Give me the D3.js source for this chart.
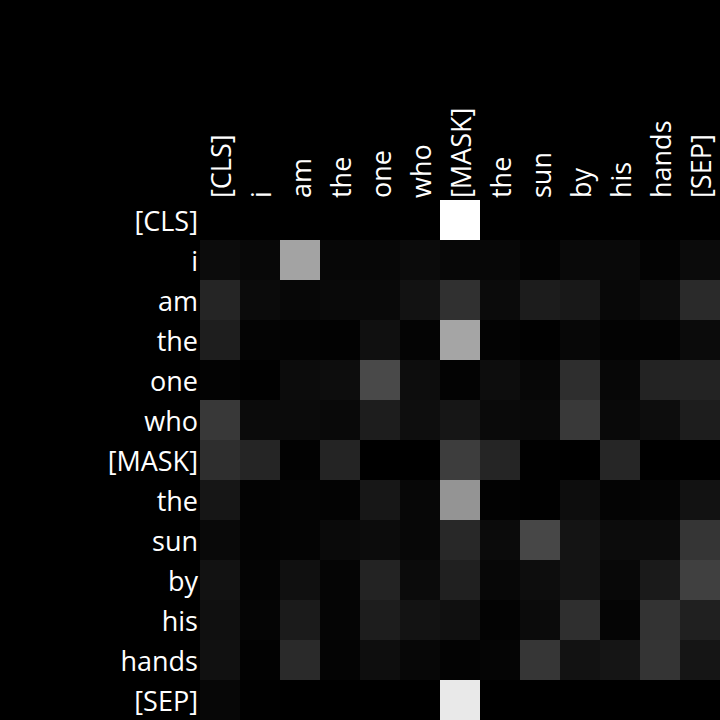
<!DOCTYPE html>
<html><head><meta charset="utf-8">
<script src="https://cdn.jsdelivr.net/npm/d3@7"></script>
<style>html,body{margin:0;padding:0;background:#000;}</style>
</head><body>
<svg id="chart" width="720" height="720"></svg>
<script>
const tokens = ["[CLS]","i","am","the","one","who","[MASK]","the","sun","by","his","hands","[SEP]"];
const row0  = [0,0,0,0,0,0,1,0,0,0,0,0,0];
const row1  = [.047,.031,.639,.027,.027,.043,.027,.027,.012,.035,.035,.012,.043];
const row2  = [.145,.043,.027,.035,.035,.071,.188,.043,.110,.094,.031,.051,.165];
const row3  = [.118,.016,.012,.008,.063,.016,.647,.012,.004,.027,.012,.012,.043];
const row4  = [.012,.004,.047,.051,.286,.051,.012,.051,.027,.180,.027,.137,.137];
const row5  = [.220,.043,.043,.035,.114,.055,.086,.039,.035,.224,.035,.051,.114];
const row6  = [.180,.145,.008,.141,0,0,.239,.145,.004,0,.149,0,0];
const row7  = [.086,.012,.016,.012,.090,.027,.580,.008,.004,.051,.016,.020,.071];
const row8  = [.035,.012,.016,.039,.047,.027,.157,.043,.278,.078,.047,.047,.208];
const row9  = [.071,.016,.063,.020,.137,.043,.125,.027,.051,.078,.031,.102,.251];
const row10 = [.063,.020,.106,.020,.114,.075,.063,.012,.043,.184,.020,.200,.125];
const row11 = [.067,.008,.165,.016,.055,.027,.012,.020,.212,.071,.082,.204,.082];
const row12 = [.027,.004,0,0,0,0,.914,0,0,0,0,0,0];
const rows = [row0,row1,row2,row3,row4,row5,row6,row7,row8,row9,row10,row11,row12];

(function(){
const svg = d3.select("#chart");
svg.append("rect").attr("width",720).attr("height",720).attr("fill","#000");
const mLeft = 200, mTop = 200, size = 520;
const idx = d3.range(tokens.length);
const x = d3.scaleBand().domain(idx).range([mLeft, mLeft+size]);
const y = d3.scaleBand().domain(idx).range([mTop, mTop+size]);
const color = d3.scaleLinear().domain([0,1]).range(["#000","#fff"]);

const cells = [];
rows.forEach((r,i)=>r.forEach((v,j)=>cells.push({i,j,v})));
svg.append("g").selectAll("rect").data(cells).join("rect")
  .attr("x",d=>x(d.j)).attr("y",d=>y(d.i))
  .attr("width",x.bandwidth()).attr("height",y.bandwidth())
  .attr("fill",d=>color(d.v));

const font = "'Open Sans', 'Noto Sans', sans-serif";
const fs = 27;
svg.append("g").selectAll("text").data(idx).join("text")
  .attr("x",mLeft-2).attr("y",d=>y(d)+y.bandwidth()/2)
  .attr("text-anchor","end").attr("dominant-baseline","central")
  .attr("fill","#fff").attr("font-family",font).attr("font-size",fs)
  .text(d=>tokens[d]);
svg.append("g").selectAll("text").data(idx).join("text")
  .attr("transform",d=>`translate(${x(d)+x.bandwidth()/2},${mTop-2}) rotate(-90)`)
  .attr("text-anchor","start").attr("dominant-baseline","central")
  .attr("fill","#fff").attr("font-family",font).attr("font-size",fs)
  .text(d=>tokens[d]);
})();
</script>
</body></html>
